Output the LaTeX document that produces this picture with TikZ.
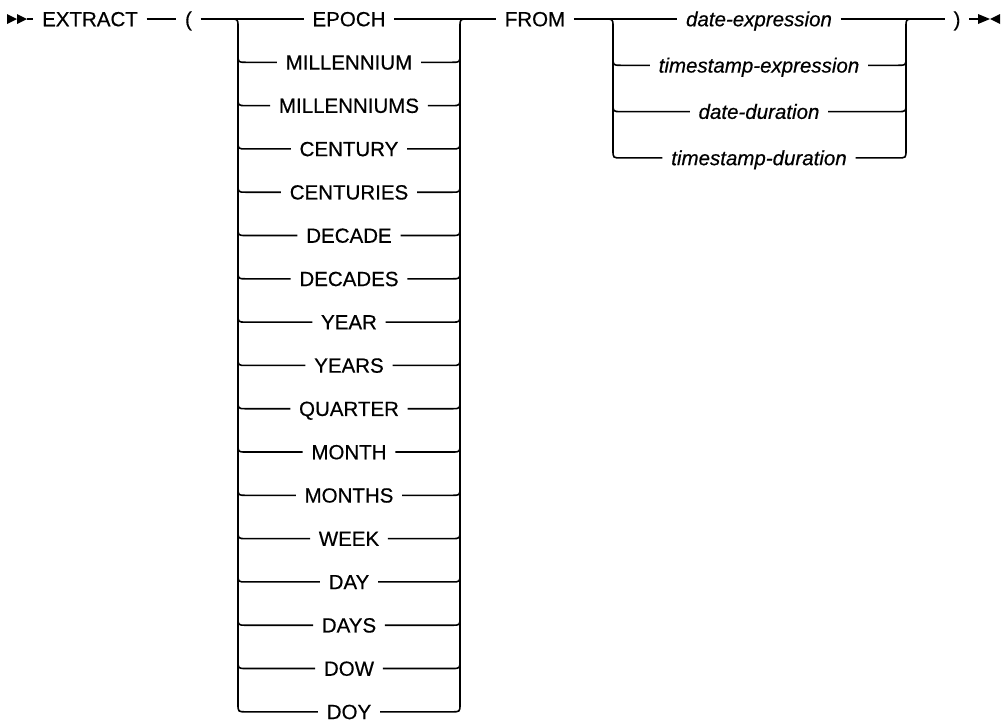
\documentclass[tikz,border=0pt]{standalone}
\usepackage{fontspec}
\setmainfont{Liberation Sans}
\newfontfamily\railfont{Liberation Sans}[FakeBold=0.5]
\begin{document}
\begin{tikzpicture}[x=1pt,y=-1pt,line width=1.6pt,
  kw/.style={font=\railfont\fontsize{20.5}{24}\selectfont, inner xsep=8pt, inner ysep=0pt,
             text height=14.5pt, text depth=0pt},
  var/.style={kw, font=\railfont\fontsize{20.5}{24}\selectfont\itshape}]
\useasboundingbox (0,0) rectangle (1003,723);
% start symbol
\fill (7,14) -- (17,19) -- (7,24) -- cycle;
\fill (17,14) -- (27,19) -- (17,24) -- cycle;
\coordinate (s) at (27,19);
\node[kw] (extract) at (90,19) {EXTRACT};
\node[kw] (lp) at (188.5,19) {(};
\draw (s) -- (extract.west);
\draw (extract.east) -- (lp.west);
% group 1
\node[kw] (k0) at (349,19) {EPOCH};
\draw (lp.east) -- (k0.west);
\draw (230,19) .. controls (238,19) .. (238,27) -- (238,703.8);
\draw (460,703.8) -- (460,27) .. controls (460,19) .. (468,19);
\foreach \w [count=\i] in {MILLENNIUM,MILLENNIUMS,CENTURY,CENTURIES,DECADE,DECADES,YEAR,YEARS,QUARTER,MONTH,MONTHS,WEEK,DAY,DAYS,DOW,DOY} {
  \pgfmathsetmacro\yy{19+43.3*\i}
  \node[kw] (k\i) at (349,\yy) {\w};
  \draw (238,\yy-8) .. controls (238,\yy) .. (246,\yy) -- (k\i.west);
  \draw (k\i.east) -- (452,\yy) .. controls (460,\yy) .. (460,\yy-8);
}
% FROM
\node[kw] (from) at (535,19) {FROM};
\draw (k0.east) -- (from.west);
% group 2
\node[var] (v0) at (759,19) {date-expression};
\draw (from.east) -- (v0.west);
\draw (605,19) .. controls (613,19) .. (613,27) -- (613,149.9);
\draw (906,149.9) -- (906,27) .. controls (906,19) .. (914,19);
\foreach \w [count=\j] in {timestamp-expression,date-duration,timestamp-duration} {
  \pgfmathsetmacro\yy{19+46.3*\j}
  \node[var] (v\j) at (759,\yy) {\w};
  \draw (613,\yy-8) .. controls (613,\yy) .. (621,\yy) -- (v\j.west);
  \draw (v\j.east) -- (898,\yy) .. controls (906,\yy) .. (906,\yy-8);
}
% end
\node[kw] (rp) at (957,19) {)};
\draw (v0.east) -- (rp.west);
\coordinate (e) at (978,19);
\draw (rp.east) -- (e);
\fill (978,14) -- (990,19) -- (978,24) -- cycle;
\fill (1000,14) -- (990,19) -- (1000,24) -- cycle;
\end{tikzpicture}
\end{document}
